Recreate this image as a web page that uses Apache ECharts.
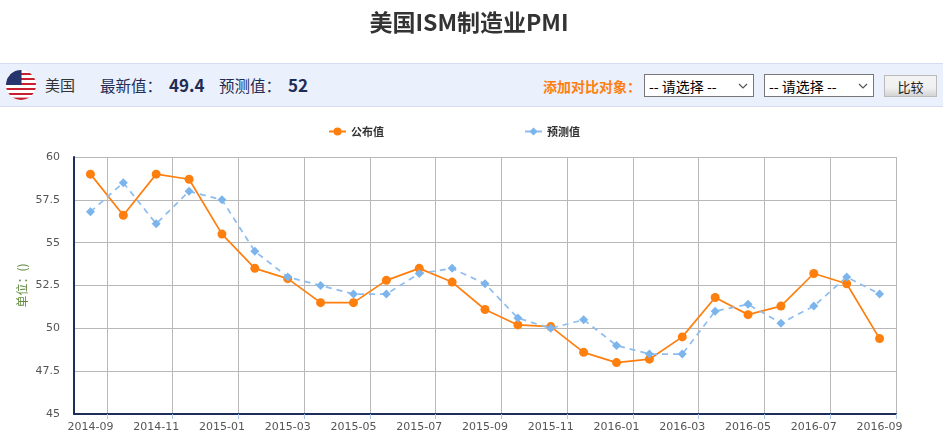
<!DOCTYPE html>
<html><head><meta charset="utf-8">
<script src="https://cdn.jsdelivr.net/npm/echarts@6/dist/echarts.min.js"></script>
<style>
html,body{margin:0;padding:0;width:943px;height:447px;overflow:hidden;background:#fff;font-family:"Noto Sans CJK SC","Noto Sans",sans-serif;}
#chart{position:absolute;left:0;top:0;width:943px;height:447px;}
#title{position:absolute;left:0;width:938px;top:4px;text-align:center;font-size:23px;font-weight:bold;color:#333;line-height:34px;}
#bar{position:absolute;left:0;top:63px;width:943px;height:42px;background:#eaf0fc;border-top:1px solid #d6dcef;border-bottom:1px solid #d6dcef;color:#1f2d55;}
#bar span{position:absolute;white-space:nowrap;line-height:20px;}
#bar select{position:absolute;top:10px;width:110px;height:23px;box-sizing:border-box;font-size:14px;font-family:inherit;border:1px solid #777;padding:0 0 0 4px;color:#000;border-radius:0;appearance:none;-webkit-appearance:none;
background:#fff url("data:image/svg+xml,%3Csvg xmlns='http://www.w3.org/2000/svg' width='10' height='6'%3E%3Cpath d='M1 1l4 4 4-4' fill='none' stroke='%23555' stroke-width='1.2'/%3E%3C/svg%3E") no-repeat right 5px center;}
#bar button{position:absolute;left:884px;top:11px;width:53px;height:22px;font-size:13px;font-family:inherit;border:1px solid #bbb;background:linear-gradient(#f3f3f3,#f0f0f0 60%,#d4d4d4);padding:0;color:#222;}
svg.flag{position:absolute;left:6px;top:6px;}
</style></head><body>
<div id="chart"></div>
<div id="title">美国ISM制造业PMI</div>
<div id="bar">
<svg class="flag" width="30" height="30" viewBox="0 0 30 30"><defs><clipPath id="c"><circle cx="15" cy="15" r="15"/></clipPath></defs><g clip-path="url(#c)"><rect width="30" height="30" fill="#fff"/><rect y="3" width="30" height="2" fill="#c8202f"/><rect y="8" width="30" height="2" fill="#c8202f"/><rect y="13" width="30" height="2" fill="#c8202f"/><rect y="18" width="30" height="2" fill="#c8202f"/><rect y="23" width="30" height="2" fill="#c8202f"/><rect y="27.6" width="30" height="2.4" fill="#c8202f"/><rect width="15.5" height="15" fill="#27356e"/></g></svg>
<span style="left:45px;top:11px;font-size:15px;color:#333">美国</span>
<span style="left:100px;top:11px;font-size:15.5px;">最新值：</span>
<span style="left:169px;top:11px;font-size:17px;font-weight:bold;">49.4</span>
<span style="left:219px;top:11px;font-size:15.5px;">预测值：</span>
<span style="left:288px;top:11px;font-size:17px;font-weight:bold;">52</span>
<span style="left:543px;top:12px;font-size:14px;font-weight:bold;color:#ff7f11;">添加对比对象：</span>
<select style="left:644px"><option>-- 请选择 --</option></select>
<select style="left:764px"><option>-- 请选择 --</option></select>
<button>比较</button>
</div>
<script>
const categories=['2014-09','2014-10','2014-11','2014-12','2015-01','2015-02','2015-03','2015-04','2015-05','2015-06','2015-07','2015-08','2015-09','2015-10','2015-11','2015-12','2016-01','2016-02','2016-03','2016-04','2016-05','2016-06','2016-07','2016-08','2016-09'];
const published=[59,56.6,59,58.7,55.5,53.5,52.9,51.5,51.5,52.8,53.5,52.7,51.1,50.2,50.1,48.6,48,48.2,49.5,51.8,50.8,51.3,53.2,52.6,49.4];
const forecast=[56.8,58.5,56.1,58,57.5,54.5,53,52.5,52,52,53.2,53.5,52.6,50.6,50,50.5,49,48.5,48.5,51,51.4,50.3,51.3,53,52];
const chart=echarts.init(document.getElementById('chart'));
const FONT='"DejaVu Sans",sans-serif';
chart.setOption({
 animation:false,
 textStyle:{fontFamily:'"Noto Sans CJK SC","Noto Sans",sans-serif'},
 legend:{left:323,top:121,itemGap:140,itemWidth:17,itemHeight:10,textStyle:{fontSize:11,fontWeight:'bold',color:'#333'},data:['公布值','预测值']},
 grid:{left:74,right:47,top:157,bottom:33},
 xAxis:{type:'category',data:categories,boundaryGap:true,
  axisLine:{lineStyle:{color:'#1f2d5a',width:2}},
  axisTick:{show:true,interval:i=>i%2===1,length:5,lineStyle:{color:'#a9c7ea'}},
  axisLabel:{interval:1,fontSize:11,fontFamily:FONT,color:'#555',margin:8,hideOverlap:false},
  splitLine:{show:true,interval:i=>i%2===1,lineStyle:{color:'#b8b8b8',width:1}}},
 yAxis:{type:'value',min:45,max:60,interval:2.5,name:'单位：()',nameLocation:'middle',nameGap:46,nameMoveOverlap:false,nameRotate:90,
  nameTextStyle:{fontSize:12,color:'#5d8a3c'},
  axisLine:{show:true,lineStyle:{color:'#1f2d5a',width:2}},axisTick:{show:false},
  axisLabel:{fontSize:11,fontFamily:FONT,color:'#555',margin:14},
  splitLine:{show:true,lineStyle:{color:'#b8b8b8',width:1}}},
 series:[
  {name:'公布值',type:'line',data:published,z:3,symbol:'circle',symbolSize:9,showAllSymbol:true,itemStyle:{color:'#ff7f0e'},lineStyle:{color:'#ff7f0e',width:1.7}},
  {name:'预测值',type:'line',data:forecast,z:4,symbol:'diamond',symbolSize:9,showAllSymbol:true,itemStyle:{color:'#7cb5ec'},lineStyle:{color:'#8dbdf0',width:1.7,type:[6,5]}}
 ]
});
</script>
</body></html>
